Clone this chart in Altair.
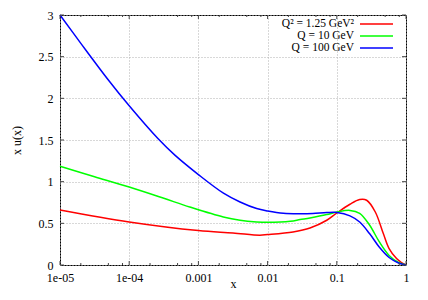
import altair as alt
import pandas as pd

series_names = ["Q² = 1.25 GeV²", "Q = 10 GeV", "Q = 100 GeV"]
series_colors = ["#ff0000", "#00ff00", "#0000ff"]

x_red = [1e-5, 1e-4, 1e-3, 3.16e-3, 7.7e-3, 0.01, 0.0233, 0.041, 0.0716, 0.1, 0.155,
         0.214, 0.27, 0.36, 0.47, 0.57, 0.73, 0.86, 1.0]
y_red = [0.66, 0.516, 0.413, 0.385, 0.358, 0.365, 0.397, 0.444, 0.537, 0.624, 0.729,
         0.785, 0.777, 0.636, 0.377, 0.197, 0.077, 0.03, 0.0]

x_green = [1e-5, 3.16e-5, 1e-4, 3.16e-4, 7.5e-4, 2.29e-3, 4e-3, 6.95e-3, 0.01, 0.0213, 0.0295,
           0.041, 0.0716, 0.1, 0.155, 0.214, 0.297, 0.41, 0.57, 0.78, 1.0]
y_green = [1.185, 1.06, 0.935, 0.80, 0.696, 0.576, 0.537, 0.517, 0.512, 0.524, 0.545,
           0.565, 0.605, 0.635, 0.655, 0.62, 0.48, 0.28, 0.115, 0.03, 0.0]

x_blue = [1e-5, 2e-5, 5e-5, 1e-4, 2.6e-4, 4.57e-4, 1e-3, 2.3e-3, 4e-3, 6.95e-3, 0.01,
          0.0169, 0.0295, 0.045, 0.0716, 0.1, 0.155, 0.214, 0.297, 0.41, 0.57, 0.78, 1.0]
y_blue = [3.0, 2.66, 2.22, 1.91, 1.517, 1.318, 1.085, 0.862, 0.756, 0.677, 0.648,
          0.62, 0.615, 0.618, 0.629, 0.63, 0.59, 0.516, 0.377, 0.216, 0.09, 0.024, 0.0]

x_major = [1e-5, 1e-4, 1e-3, 1e-2, 1e-1, 1.0]
x_minor = [2e-5, 5e-5, 8e-5, 2e-4, 5e-4, 8e-4, 2e-3, 5e-3, 8e-3,
           2e-2, 5e-2, 8e-2, 2e-1, 5e-1, 8e-1]
y_major = [0, 0.5, 1, 1.5, 2, 2.5, 3]

rows = []
for name, xs, ys in zip(series_names, [x_red, x_green, x_blue], [y_red, y_green, y_blue]):
    for a, b in zip(xs, ys):
        rows.append({"x": a, "y": b, "series": name})
df = pd.DataFrame(rows)

W, H = 346, 250
FONT = "Liberation Serif"

xscale = alt.Scale(type="log", domain=[1e-5, 1], nice=False)
yscale = alt.Scale(domain=[0, 3], nice=False, zero=False)

xaxis = alt.Axis(title="x", values=x_major,
                 labelExpr="datum.value < 0.00005 ? '1e-05' : datum.value < 0.0005 ? '1e-04' : '' + datum.value",
                 grid=True, ticks=False, labelPadding=7, labelFlush=False,
                 titleBaseline="bottom", titleY=25)
yaxis = alt.Axis(title="x u(x)", values=y_major, labelExpr="'' + datum.value",
                 grid=True, ticks=False, labelPadding=7, titlePadding=15, labelFlush=False)

lines = alt.Chart(df).mark_line(strokeWidth=1.5, interpolate="catmull-rom").encode(
    x=alt.X("x:Q", scale=xscale, axis=xaxis),
    y=alt.Y("y:Q", scale=yscale, axis=yaxis),
    color=alt.Color("series:N", scale=alt.Scale(domain=series_names, range=series_colors), legend=None),
)

dmaj = pd.DataFrame({"x": x_major})
dmin = pd.DataFrame({"x": x_minor})
dy = pd.DataFrame({"y": y_major})

tick_color = "#444444"
xt = []
for d, L in [(dmaj, 4), (dmin, 2)]:
    xt.append(alt.Chart(d).mark_rule(color=tick_color, strokeWidth=1).encode(
        x=alt.X("x:Q", scale=xscale, axis=xaxis), y=alt.value(H), y2=alt.value(H - L)))
    xt.append(alt.Chart(d).mark_rule(color=tick_color, strokeWidth=1).encode(
        x=alt.X("x:Q", scale=xscale, axis=xaxis), y=alt.value(0), y2=alt.value(L)))
yt = [
    alt.Chart(dy).mark_rule(color=tick_color, strokeWidth=1).encode(
        y=alt.Y("y:Q", scale=yscale, axis=yaxis), x=alt.value(0), x2=alt.value(4)),
    alt.Chart(dy).mark_rule(color=tick_color, strokeWidth=1).encode(
        y=alt.Y("y:Q", scale=yscale, axis=yaxis), x=alt.value(W - 4), x2=alt.value(W)),
]

legend_layers = []
row_y = [9, 21, 33]
for name, col, ry in zip(series_names, series_colors, row_y):
    legend_layers.append(alt.Chart(pd.DataFrame({"t": [name]})).mark_text(
        align="right", baseline="middle", font=FONT, fontSize=11.5, color="black").encode(
        text="t:N", x=alt.value(294), y=alt.value(ry)))
    legend_layers.append(alt.Chart(pd.DataFrame({"t": [name]})).mark_rule(
        color=col, strokeWidth=1.5).encode(
        x=alt.value(300), x2=alt.value(333), y=alt.value(ry)))

chart = alt.layer(lines, *xt, *yt, *legend_layers).properties(
    width=W, height=H,
    padding={"left": 52, "top": 7, "right": 13, "bottom": 25},
    autosize=alt.AutoSizeParams(type="none"),
).configure_view(stroke="black", strokeWidth=1).configure_axis(
    domain=False, gridColor="#b0b0b0", gridDash=[1, 2], gridWidth=1,
    labelFont=FONT, labelFontSize=12, labelColor="black",
    titleFont=FONT, titleFontSize=12, titleFontWeight="normal", titleColor="black",
)

chart.save("out.html", embed_options={"renderer": "svg", "actions": False})
